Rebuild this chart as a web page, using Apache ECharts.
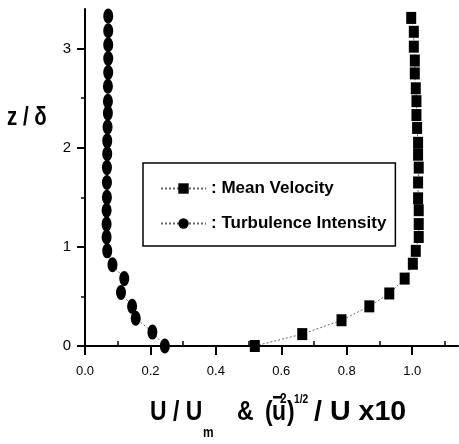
<!DOCTYPE html>
<html><head><meta charset="utf-8">
<script src="https://cdn.jsdelivr.net/npm/echarts@6/dist/echarts.min.js"></script>
<style>html,body{margin:0;padding:0;background:#fff}#c{width:459px;height:444px}</style>
</head><body><div id="c"></div>
<script>
// Mean velocity U/Um vs z/delta
const uVelocity = [0.519,0.664,0.784,0.869,0.930,0.977,1.002,1.011,1.020,1.020,1.020,1.018,1.018,1.020,1.018,1.018,1.015,1.013,1.013,1.011,1.008,1.008,1.005,1.005,0.997];
const zVelocity = [0.00,0.12,0.26,0.40,0.53,0.68,0.83,0.96,1.10,1.23,1.37,1.49,1.65,1.80,1.93,2.05,2.20,2.33,2.47,2.60,2.75,2.88,3.02,3.17,3.31];
// Turbulence intensity x10 vs z/delta
const uTurb = [0.244,0.206,0.155,0.144,0.110,0.120,0.084,0.068,0.066,0.066,0.066,0.067,0.067,0.067,0.068,0.068,0.069,0.070,0.070,0.070,0.071,0.071,0.071,0.071,0.071];
const zTurb = [0.00,0.14,0.28,0.40,0.54,0.68,0.82,0.96,1.10,1.23,1.37,1.50,1.65,1.80,1.94,2.07,2.21,2.35,2.47,2.62,2.76,2.90,3.04,3.18,3.33];
const xTicks = [0, 0.2, 0.4, 0.6, 0.8, 1.0];
const xMinorTicks = [0.1, 0.3, 0.5, 0.7, 0.9, 1.1];
const yTicks = [0, 1, 2, 3];
const yMinorTicks = [0.5, 1.5, 2.5];
const seriesNames = [': Mean Velocity', ': Turbulence Intensity'];

const FF = "'Liberation Sans',Arial,sans-serif";
const chart = echarts.init(document.getElementById('c'), null, {renderer:'canvas'});
const pairs = (xs, ys) => xs.map((x, i) => [x, ys[i]]);
const lineStyle = {color:'#666', width:1, type:[2,2]};
const baseX = {type:'value', min:0, max:1.14, splitLine:{show:false}};
const baseY = {type:'value', min:0, max:3.4, splitLine:{show:false}};
const nameText = (text, x, y, size, sx) => ({type:'text', x:x, y:y, scaleX:sx || 0.85,
  style:{text:text, fill:'#000', font:'bold ' + size + 'px ' + FF, verticalAlign:'middle'}});
chart.setOption({
  animation:false,
  backgroundColor:'#fff',
  grid:{left:85, top:9, width:373, height:337, containLabel:false},
  xAxis:[
    Object.assign({}, baseX, {
      axisLine:{lineStyle:{color:'#000', width:2}},
      axisTick:{customValues:xTicks, length:9, lineStyle:{color:'#000', width:2}},
      axisLabel:{customValues:xTicks, margin:19, color:'#000', fontSize:13, fontFamily:FF,
        formatter:v => v.toFixed(1)}
    }),
    Object.assign({}, baseX, {
      axisLine:{show:false},
      axisTick:{customValues:xMinorTicks, length:5, lineStyle:{color:'#000', width:1.5}},
      axisLabel:{show:false}
    })
  ],
  yAxis:[
    Object.assign({}, baseY, {
      axisLine:{lineStyle:{color:'#000', width:2}},
      axisTick:{customValues:yTicks, length:8, lineStyle:{color:'#000', width:2}},
      axisLabel:{customValues:yTicks, margin:14, color:'#000', fontSize:15, fontFamily:FF,
        formatter:v => String(v)}
    }),
    Object.assign({}, baseY, {
      position:'left',
      axisLine:{show:false},
      axisTick:{customValues:yMinorTicks, length:4, lineStyle:{color:'#000', width:1.5}},
      axisLabel:{show:false}
    })
  ],
  legend:{
    orient:'vertical', left:143, top:163,
    backgroundColor:'#fff', borderColor:'#000', borderWidth:1.5,
    padding:[17, 9, 14, 17],
    itemWidth:45, itemHeight:13, itemGap:18,
    textStyle:{color:'#000', fontSize:17, fontWeight:'bold', fontFamily:FF},
    data:seriesNames
  },
  series:[
    {name:seriesNames[0], type:'line', data:pairs(uVelocity, zVelocity),
     symbol:'rect', symbolSize:[10,12], itemStyle:{color:'#000'}, lineStyle:lineStyle, clip:false},
    {name:seriesNames[1], type:'line', data:pairs(uTurb, zTurb),
     symbol:'circle', symbolSize:[10,15], itemStyle:{color:'#000'}, lineStyle:lineStyle, clip:false}
  ],
  graphic:[
    nameText('z / δ', 7, 118, 25, 0.82),
    {type:'group', children:[
      nameText('U / U', 150, 413, 27),
      nameText('m', 203, 433, 14),
      nameText('&', 237, 413, 27),
      nameText('(', 265, 413, 27),
      nameText('u', 272, 413, 27),
      {type:'rect', shape:{x:273, y:396, width:9, height:2.5}, style:{fill:'#000'}},
      nameText('2', 280, 399, 14),
      nameText(')', 287, 413, 27),
      nameText('1/2', 294, 400, 12),
      nameText('/ U x10', 314, 413, 27, 1.06)
    ]}
  ]
});
</script></body></html>
